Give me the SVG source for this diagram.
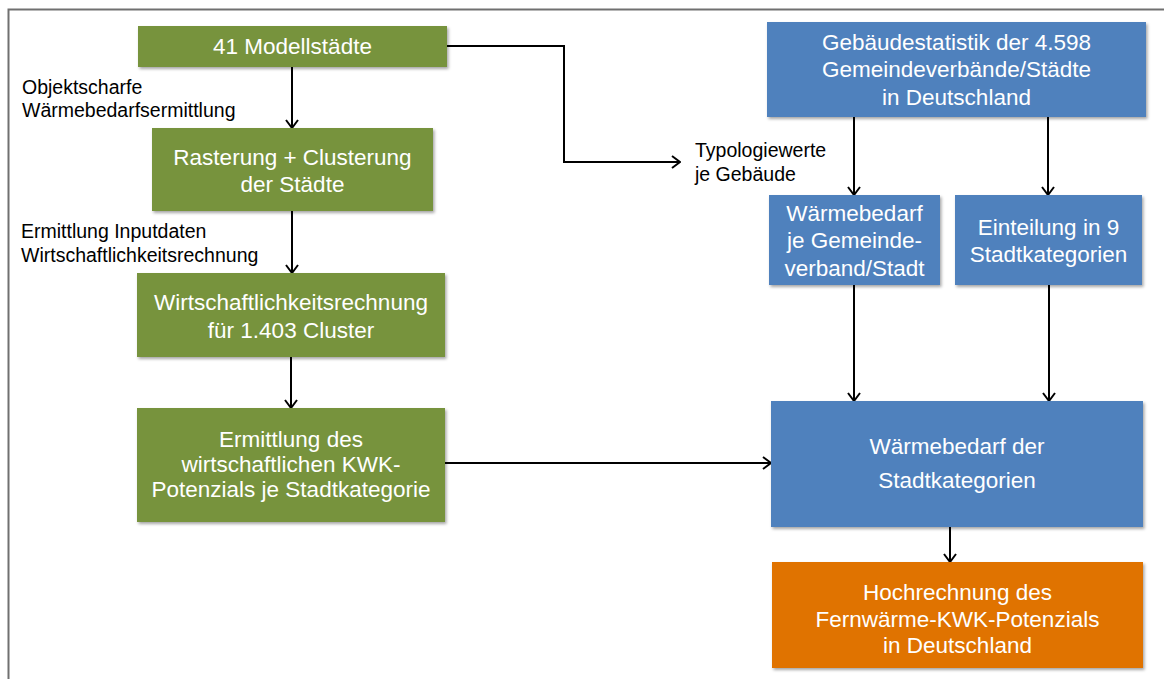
<svg xmlns="http://www.w3.org/2000/svg" width="1164" height="679" viewBox="0 0 1164 679">
  <defs>
    <filter id="sh" x="-5%" y="-5%" width="112%" height="120%">
      <feDropShadow dx="1.5" dy="2" stdDeviation="1.5" flood-color="#000" flood-opacity="0.35"/>
    </filter>
    <marker id="ah" viewBox="0 0 10 14" refX="9" refY="7" markerWidth="10" markerHeight="14" orient="auto" markerUnits="userSpaceOnUse">
      <path d="M1,1 L9,7 L1,13" fill="none" stroke="#000" stroke-width="2"/>
    </marker>
  </defs>
  <style>
    .g { fill: #77933C; filter: url(#sh); }
    .b { fill: #4F81BD; filter: url(#sh); }
    .o { fill: #E07300; filter: url(#sh); }
    .t { font-family: "Liberation Sans", Arial, sans-serif; font-size: 22.5px; fill: #fff; text-anchor: middle; }
    .l { font-family: "Liberation Sans", Arial, sans-serif; font-size: 19.5px; fill: #000; }
    .c { fill: none; stroke: #000; stroke-width: 2; marker-end: url(#ah); }
  </style>
  <rect width="1164" height="679" fill="#fff"/>
  <path d="M8.5,679 V9.5 H1164" fill="none" stroke="#707070" stroke-width="2"/>

  <g id="connectors">
    <line class="c" x1="292" y1="67" x2="292" y2="128"/>
    <line class="c" x1="292" y1="211" x2="292" y2="273"/>
    <line class="c" x1="291" y1="357" x2="291" y2="408"/>
    <line class="c" x1="445" y1="463" x2="771" y2="463"/>
    <polyline class="c" points="447,46 564,46 564,162 680,162"/>
    <line class="c" x1="854" y1="117" x2="854" y2="195"/>
    <line class="c" x1="1048" y1="117" x2="1048" y2="195"/>
    <line class="c" x1="854" y1="285" x2="854" y2="401"/>
    <line class="c" x1="1049" y1="285" x2="1049" y2="401"/>
    <line class="c" x1="950" y1="527" x2="950" y2="562"/>
  </g>

  <g id="label-objektscharfe">
    <text class="l" x="22" y="94">Objektscharfe</text>
    <text class="l" x="22" y="117">Wärmebedarfsermittlung</text>
  </g>
  <g id="label-inputdaten">
    <text class="l" x="21" y="238">Ermittlung Inputdaten</text>
    <text class="l" x="21" y="262">Wirtschaftlichkeitsrechnung</text>
  </g>
  <g id="label-typologie">
    <text class="l" x="695" y="157">Typologiewerte</text>
    <text class="l" x="695" y="181">je Gebäude</text>
  </g>

  <g id="n1">
    <rect class="g" x="138" y="26" width="309" height="41"/>
    <text class="t" x="292.5" y="54">41 Modellstädte</text>
  </g>
  <g id="n2">
    <rect class="g" x="152" y="128" width="281" height="83"/>
    <text class="t" x="292.5" y="165">Rasterung + Clusterung</text>
    <text class="t" x="292.5" y="192">der Städte</text>
  </g>
  <g id="n3">
    <rect class="g" x="137" y="273" width="308" height="84"/>
    <text class="t" x="291" y="310">Wirtschaftlichkeitsrechnung</text>
    <text class="t" x="291" y="338">für 1.403 Cluster</text>
  </g>
  <g id="n4">
    <rect class="g" x="137" y="408" width="308" height="114"/>
    <text class="t" x="291" y="447">Ermittlung des</text>
    <text class="t" x="291" y="472">wirtschaftlichen KWK-</text>
    <text class="t" x="291" y="497">Potenzials je Stadtkategorie</text>
  </g>
  <g id="n5">
    <rect class="b" x="767" y="22" width="379" height="95"/>
    <text class="t" x="956.5" y="50">Gebäudestatistik der 4.598</text>
    <text class="t" x="956.5" y="77">Gemeindeverbände/Städte</text>
    <text class="t" x="956.5" y="105">in Deutschland</text>
  </g>
  <g id="n6">
    <rect class="b" x="769" y="195" width="171" height="90"/>
    <text class="t" x="854.5" y="221">Wärmebedarf</text>
    <text class="t" x="854.5" y="248">je Gemeinde-</text>
    <text class="t" x="854.5" y="276">verband/Stadt</text>
  </g>
  <g id="n7">
    <rect class="b" x="955" y="195" width="187" height="90"/>
    <text class="t" x="1048.5" y="235">Einteilung in 9</text>
    <text class="t" x="1048.5" y="262">Stadtkategorien</text>
  </g>
  <g id="n8">
    <rect class="b" x="771" y="401" width="372" height="126"/>
    <text class="t" x="957" y="454">Wärmebedarf der</text>
    <text class="t" x="957" y="488">Stadtkategorien</text>
  </g>
  <g id="n9">
    <rect class="o" x="772" y="562" width="371" height="106"/>
    <text class="t" x="957.5" y="600">Hochrechnung des</text>
    <text class="t" x="957.5" y="627">Fernwärme-KWK-Potenzials</text>
    <text class="t" x="957.5" y="653">in Deutschland</text>
  </g>
</svg>
